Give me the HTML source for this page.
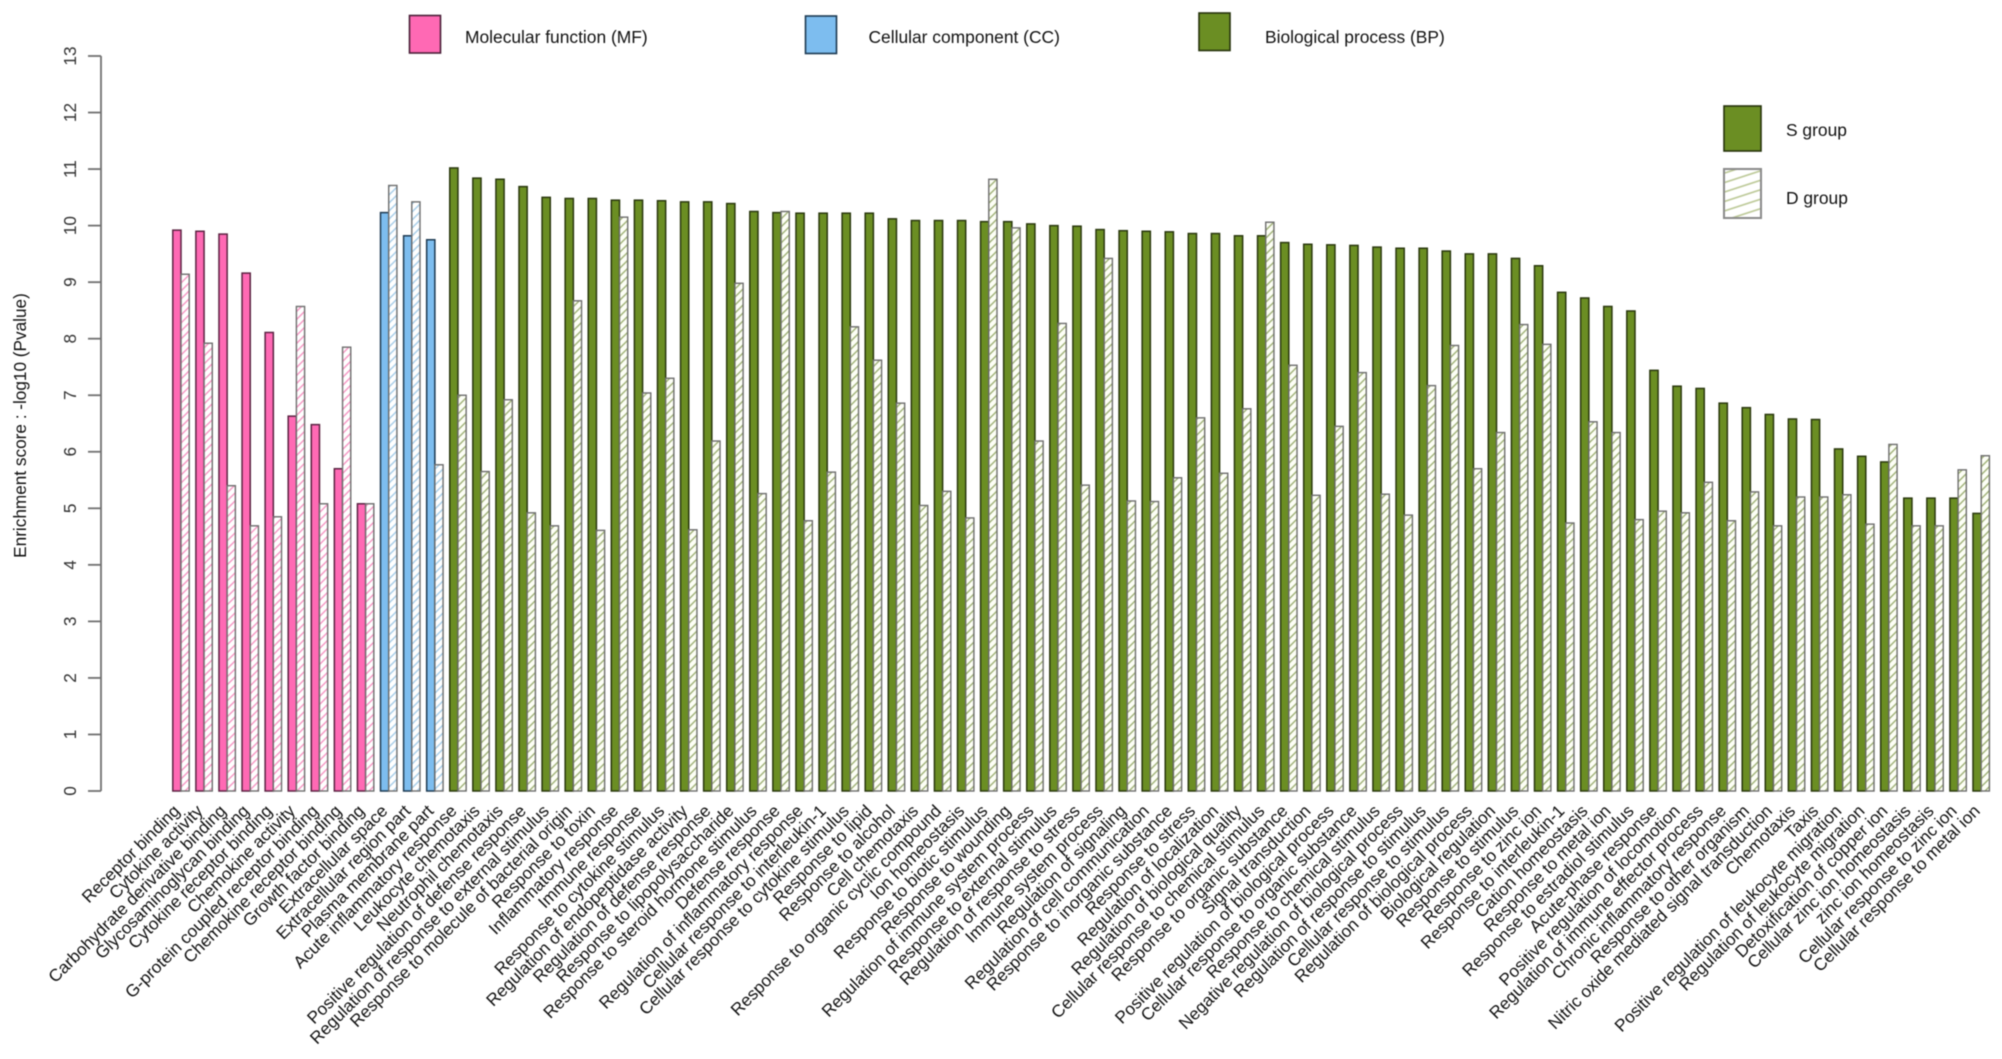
<!DOCTYPE html>
<html lang="en">
<head>
<meta charset="utf-8">
<title>Enrichment score bar chart</title>
<style>
  html, body { margin: 0; padding: 0; background: #fff; }
  svg { display: block; font-family: "Liberation Sans", Arial, sans-serif; filter: blur(0.4px); }
  text { fill: #111; }
</style>
</head>
<body>
<svg id="chart" xmlns="http://www.w3.org/2000/svg" width="2002" height="1059" viewBox="0 0 2002 1059">
  <defs>
    <pattern id="hatch-MF" patternUnits="userSpaceOnUse" width="8" height="8">
      <rect width="8" height="8" fill="#fff"/>
      <path d="M-2,2 L2,-2 M0,8 L8,0 M6,10 L10,6" stroke="#f79ac6" stroke-width="1.5"/>
    </pattern>
    <pattern id="hatch-CC" patternUnits="userSpaceOnUse" width="8" height="8">
      <rect width="8" height="8" fill="#fff"/>
      <path d="M-2,2 L2,-2 M0,8 L8,0 M6,10 L10,6" stroke="#a9cfe9" stroke-width="1.5"/>
    </pattern>
    <pattern id="hatch-BP" patternUnits="userSpaceOnUse" width="8" height="8">
      <rect width="8" height="8" fill="#fdfff6"/>
      <path d="M-2,2 L2,-2 M0,8 L8,0 M6,10 L10,6" stroke="#a3b47c" stroke-width="1.5"/>
    </pattern>
    <pattern id="hatch-legend" patternUnits="userSpaceOnUse" width="40" height="9" patternTransform="rotate(-18)">
      <rect width="40" height="9" fill="#fff"/>
      <line x1="0" y1="4.5" x2="40" y2="4.5" stroke="#b6c48e" stroke-width="1.6"/>
    </pattern>
  </defs>

  <text transform="translate(26,425.5) rotate(-90)" text-anchor="middle" font-size="17.2">Enrichment score : -log10 (Pvalue)</text>

  <g id="y-axis"></g>
  <g id="bars"></g>
  <g id="x-labels"></g>

  <g>
    <g>
      <rect x="409.5" y="15.5" width="31" height="37.5" fill="#ff69b4" stroke="#4a2038" stroke-width="1.6"/>
      <text x="465" y="43" font-size="17.4">Molecular function (MF)</text>
    </g>
    <g>
      <rect x="805.5" y="16" width="31" height="37.5" fill="#7dbdef" stroke="#1d3a52" stroke-width="1.6"/>
      <text x="868.5" y="43" font-size="17.4">Cellular component (CC)</text>
    </g>
    <g>
      <rect x="1199" y="13" width="31" height="37.5" fill="#6b8e23" stroke="#26330c" stroke-width="1.6"/>
      <text x="1265" y="43" font-size="17.4">Biological process (BP)</text>
    </g>
  </g>

  <g>
    <g>
      <rect x="1724" y="106" width="37" height="45" fill="#6b8e23" stroke="#26330c" stroke-width="1.6"/>
      <text x="1786" y="136" font-size="17.4">S group</text>
    </g>
    <g>
      <rect x="1724" y="169" width="37" height="49" fill="url(#hatch-legend)" stroke="#8a8a8a" stroke-width="2"/>
      <text x="1786" y="204" font-size="17.4">D group</text>
    </g>
  </g>
</svg>

<script>
const tickLabels = [0, 1, 2, 3, 4, 5, 6, 7, 8, 9, 10, 11, 12, 13];
const domainNames = ["MF", "CC", "BP"];
const domainSizes = [9, 3, 67];
const categories = [
  "Receptor binding", "Cytokine activity", "Carbohydrate derivative binding", "Glycosaminoglycan binding",
  "Cytokine receptor binding", "Chemokine activity", "G-protein coupled receptor binding", "Chemokine receptor binding",
  "Growth factor binding", "Extracellular space", "Extracellular region part", "Plasma membrane part",
  "Acute inflammatory response", "Leukocyte chemotaxis", "Neutrophil chemotaxis", "Positive regulation of defense response",
  "Regulation of response to external stimulus", "Response to molecule of bacterial origin", "Response to toxin",
  "Inflammatory response", "Immune response", "Response to cytokine stimulus", "Regulation of endopeptidase activity",
  "Regulation of defense response", "Response to lipopolysaccharide", "Response to steroid hormone stimulus",
  "Defense response", "Regulation of inflammatory response", "Cellular response to interleukin-1",
  "Cellular response to cytokine stimulus", "Response to lipid", "Response to alcohol", "Cell chemotaxis",
  "Response to organic cyclic compound", "Ion homeostasis", "Response to biotic stimulus", "Response to wounding",
  "Regulation of immune system process", "Response to external stimulus", "Regulation of response to stress",
  "Immune system process", "Regulation of signaling", "Regulation of cell communication",
  "Response to inorganic substance", "Response to stress", "Regulation of localization",
  "Regulation of biological quality", "Cellular response to chemical stimulus", "Response to organic substance",
  "Signal transduction", "Positive regulation of biological process", "Cellular response to organic substance",
  "Response to chemical stimulus", "Negative regulation of biological process", "Regulation of response to stimulus",
  "Cellular response to stimulus", "Regulation of biological process", "Biological regulation", "Response to stimulus",
  "Response to zinc ion", "Response to interleukin-1", "Cation homeostasis", "Response to metal ion",
  "Response to estradiol stimulus", "Acute-phase response", "Positive regulation of locomotion",
  "Regulation of immune effector process", "Chronic inflammatory response", "Response to other organism",
  "Nitric oxide mediated signal transduction", "Chemotaxis", "Taxis", "Positive regulation of leukocyte migration",
  "Regulation of leukocyte migration", "Detoxification of copper ion", "Cellular zinc ion homeostasis",
  "zinc ion homeostasis", "Cellular response to zinc ion", "Cellular response to metal ion"
];
const sGroupValues = [
  9.92, 9.90, 9.85, 9.16, 8.11, 6.63, 6.48, 5.70, 5.08,
  10.23, 9.82, 9.75,
  11.02, 10.84, 10.82, 10.69, 10.50, 10.48, 10.48, 10.45, 10.45, 10.44, 10.42, 10.42, 10.39, 10.25, 10.23,
  10.22, 10.22, 10.22, 10.22, 10.12, 10.09, 10.09, 10.09, 10.07, 10.07, 10.03, 10.00, 9.99, 9.93, 9.91,
  9.90, 9.89, 9.86, 9.86, 9.82, 9.82, 9.70, 9.67, 9.66, 9.65, 9.62, 9.60, 9.60, 9.55, 9.50, 9.50, 9.42,
  9.29, 8.82, 8.72, 8.57, 8.49, 7.44, 7.16, 7.12, 6.86, 6.78, 6.66, 6.58, 6.57, 6.05, 5.92, 5.82,
  5.18, 5.18, 5.18, 4.91
];
const dGroupValues = [
  9.14, 7.92, 5.40, 4.69, 4.85, 8.57, 5.08, 7.85, 5.08,
  10.71, 10.42, 5.77,
  7.00, 5.65, 6.92, 4.92, 4.69, 8.67, 4.61, 10.15, 7.04, 7.30, 4.62, 6.19, 8.98, 5.26, 10.25,
  4.78, 5.64, 8.21, 7.62, 6.86, 5.05, 5.30, 4.83, 10.82, 9.96, 6.19, 8.27, 5.41, 9.42, 5.13,
  5.12, 5.54, 6.60, 5.62, 6.76, 10.06, 7.53, 5.23, 6.45, 7.40, 5.25, 4.88, 7.17, 7.88, 5.70, 6.34, 8.25,
  7.90, 4.74, 6.53, 6.34, 4.80, 4.95, 4.92, 5.46, 4.78, 5.29, 4.69, 5.20, 5.20, 5.24, 4.72, 6.13,
  4.69, 4.69, 5.68, 5.93
];

const SVG_NS = "http://www.w3.org/2000/svg";
const domainFill = { MF: "#ff69b4", CC: "#7dbdef", BP: "#6b8e23" };
const domainStroke = { MF: "#5c2443", CC: "#1d3a52", BP: "#2a380e" };

function yScale(v) { return 791 - v * (735 / 13); }
function xScale(i) { return 172.8 + i * (1800.2 / 78); }
function domainOf(i) {
  let end = 0;
  for (let d = 0; d < domainSizes.length; d++) {
    end += domainSizes[d];
    if (i < end) return domainNames[d];
  }
  return domainNames[domainNames.length - 1];
}
function make(tag, attrs) {
  const el = document.createElementNS(SVG_NS, tag);
  for (const k in attrs) el.setAttribute(k, attrs[k]);
  return el;
}

const yAxisGroup = document.getElementById("y-axis");
const axisLine = make("line", { x1: 101, x2: 101, y1: yScale(tickLabels[tickLabels.length - 1]), y2: yScale(tickLabels[0]), stroke: "#707070", "stroke-width": 1.8 });


yAxisGroup.appendChild(axisLine);
tickLabels.forEach(function (t) {
  const y = yScale(t);
  const tick = make("line", { x1: 88, x2: 101, y1: y, y2: y, stroke: "#707070", "stroke-width": 1.8 });
  
  
  yAxisGroup.appendChild(tick);
  const label = make("text", { transform: "translate(76," + y + ") rotate(-90)", "text-anchor": "middle", "font-size": 17.2, style: "fill:#333" });
  
  
  label.textContent = t;
  yAxisGroup.appendChild(label);
});

const barsGroup = document.getElementById("bars");
const labelsGroup = document.getElementById("x-labels");
const barWidth = 8.2;
categories.forEach(function (name, i) {
  const domain = domainOf(i);
  const x = xScale(i);
  const base = yScale(0);

  const sTop = yScale(sGroupValues[i]);
  const sBar = make("rect", { x: x, y: sTop, width: barWidth, height: base - sTop, fill: domainFill[domain], stroke: domainStroke[domain], "stroke-width": 1.5 });
  
  
  barsGroup.appendChild(sBar);

  const dTop = yScale(dGroupValues[i]);
  const dBar = make("rect", { x: x + barWidth, y: dTop, width: barWidth, height: base - dTop, fill: "url(#hatch-" + domain + ")", stroke: "#6e6e6e", "stroke-width": 1.4 });
  
  
  barsGroup.appendChild(dBar);

  const label = make("text", { transform: "translate(" + (x + 8) + ",812) rotate(-45)", "text-anchor": "end", "font-size": 17.2 });
  
  
  label.textContent = name;
  labelsGroup.appendChild(label);
});
</script>
</body>
</html>
